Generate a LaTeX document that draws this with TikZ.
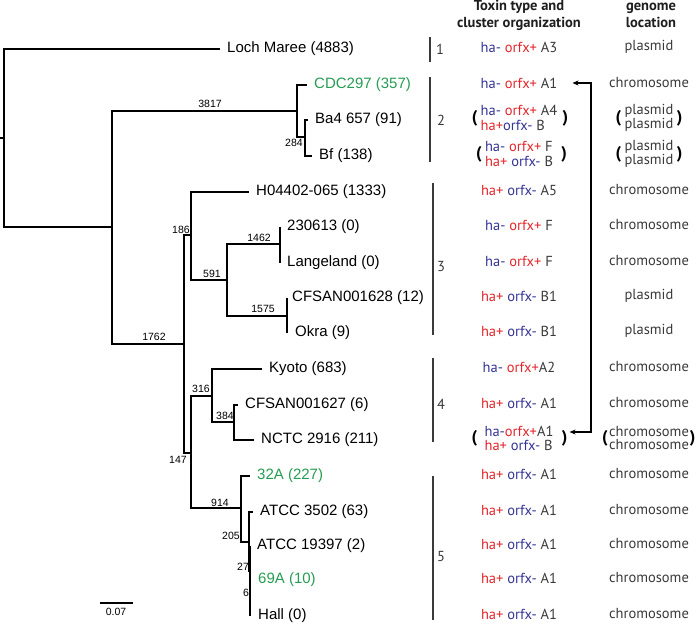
\documentclass[tikz,border=0pt]{standalone}
\usepackage{fontspec}
\setmainfont{Liberation Sans}
\newfontfamily\colfont{PT Sans}
\usetikzlibrary{arrows.meta,positioning}
\definecolor{botuBlue}{RGB}{52,52,150}
\definecolor{botuRed}{RGB}{226,38,44}
\definecolor{botuGreen}{RGB}{38,156,82}
\definecolor{botuGray}{RGB}{58,58,58}
\definecolor{botuDark}{RGB}{30,30,30}
\newcommand{\haPlus}{\textcolor{botuRed}{ha+}}
\newcommand{\haMinus}{\textcolor{botuBlue}{ha-}}
\newcommand{\orfPlus}{\textcolor{botuRed}{orfx+}}
\newcommand{\orfMinus}{\textcolor{botuBlue}{orfx-}}

\begin{document}
\begin{tikzpicture}[
  x=1pt, y=-1pt,
  branch/.style={line width=1.6pt, black},
  leaf/.style={inner sep=2pt, font=\fontsize{15}{15}\selectfont},
  support/.style={inner sep=0pt, font=\fontsize{10.5}{10.5}\selectfont},
  toxin/.style={inner sep=0pt, yshift=2pt, align=left, text=botuGray, font=\colfont\fontsize{14.5}{15}\selectfont},
  genome/.style={inner sep=0pt, yshift=2pt, align=center, text=botuGray, font=\colfont\fontsize{14.5}{13}\selectfont},
  paren/.style={inner sep=0pt, text=black, font=\colfont\bfseries\fontsize{17}{17}\selectfont},
  cladebar/.style={line width=1.5pt, botuGray},
  cladenum/.style={inner sep=0pt, text=botuGray, font=\colfont\fontsize{14.5}{14}\selectfont},
  header/.style={inner sep=0pt, align=center, text=botuDark, font=\colfont\bfseries\fontsize{14.5}{17}\selectfont},
  link/.style={{Stealth[length=6pt,width=5pt]}-{Stealth[length=6pt,width=5pt]}, line width=1.4pt}
]
  \useasboundingbox (0,0) rectangle (700,623);

  % tree
  \coordinate (rstub) at (0,138);
  \coordinate (r) at (4,138);
  \coordinate (a) at (112,227);
  \coordinate (n3817) at (297,111);
  \coordinate (n284) at (305,137);
  \coordinate (n1762) at (184,344);
  \coordinate (n186) at (191,235);
  \coordinate (n591) at (227,280);
  \coordinate (n1462) at (280,244);
  \coordinate (n1575) at (287,316);
  \coordinate (n147) at (191,453);
  \coordinate (n316) at (212,396);
  \coordinate (n384) at (234,422);
  \coordinate (n914) at (241,508);
  \coordinate (n205) at (249,542);
  \coordinate (n27) at (250,571);
  \coordinate (n6) at (250,598);

  \coordinate (tLoch) at (220,49);
  \coordinate (tCDC) at (307,85);
  \coordinate (tBa) at (308,120);
  \coordinate (tBf) at (312,156);
  \coordinate (tH) at (249,192);
  \coordinate (t2306) at (280,227);
  \coordinate (tLang) at (280,263);
  \coordinate (tCF28) at (287,298);
  \coordinate (tOkra) at (287,333);
  \coordinate (tKyoto) at (262,369);
  \coordinate (tCF27) at (238,405);
  \coordinate (tNCTC) at (254,440);
  \coordinate (t32A) at (250,476);
  \coordinate (t3502) at (253,512);
  \coordinate (t19397) at (250,546);
  \coordinate (t69A) at (250,580);
  \coordinate (tHall) at (250,616);

  \draw[branch] (rstub) -- (r);
  \foreach \p/\c in {r/tLoch, r/a, a/n3817, n3817/tCDC, n3817/n284, n284/tBa, n284/tBf,
      a/n1762, n1762/n186, n186/tH, n186/n591, n591/n1462, n1462/t2306, n1462/tLang,
      n591/n1575, n1575/tCF28, n1575/tOkra, n1762/n147, n147/n316, n316/tKyoto,
      n316/n384, n384/tCF27, n384/tNCTC, n147/n914, n914/t32A, n914/n205,
      n205/t3502, n205/n27, n27/t19397, n27/n6, n6/t69A, n6/tHall}
    \draw[branch] (\p) |- (\c);

  \node[leaf, right=5pt of tLoch] (loch) {Loch Maree (4883)};
  \node[leaf, text=botuGreen, right=5pt of tCDC] (cdc) {CDC297 (357)};
  \node[leaf, right=5pt of tBa] (ba4) {Ba4 657 (91)};
  \node[leaf, right=5pt of tBf] (bf) {Bf (138)};
  \node[leaf, right=5pt of tH] (h04) {H04402-065 (1333)};
  \node[leaf, right=5pt of t2306] (s2306) {230613 (0)};
  \node[leaf, right=5pt of tLang] (lang) {Langeland (0)};
  \node[leaf, right=3pt of tCF28] (cf28) {CFSAN001628 (12)};
  \node[leaf, right=6pt of tOkra] (okra) {Okra (9)};
  \node[leaf, right=5pt of tKyoto] (kyoto) {Kyoto (683)};
  \node[leaf, right=5pt of tCF27] (cf27) {CFSAN001627 (6)};
  \node[leaf, right=5pt of tNCTC] (nctc) {NCTC 2916 (211)};
  \node[leaf, text=botuGreen, right=5pt of t32A] (s32a) {32A (227)};
  \node[leaf, right=5pt of t3502] (atcc3502) {ATCC 3502 (63)};
  \node[leaf, right=5pt of t19397] (atcc19397) {ATCC 19397 (2)};
  \node[leaf, text=botuGreen, right=6pt of t69A] (s69a) {69A (10)};
  \node[leaf, right=6pt of tHall] (hall) {Hall (0)};

  \node[support] (l3817) at (210,104) {3817};
  \node[support] (l284) at (294,143) {284};
  \node[support] (l1762) at (154,337) {1762};
  \node[support] (l186) at (181,230) {186};
  \node[support] (l591) at (212,274) {591};
  \node[support] (l1462) at (259,238) {1462};
  \node[support] (l1575) at (263,309) {1575};
  \node[support] (l316) at (201,389) {316};
  \node[support] (l384) at (225,416) {384};
  \node[support] (l147) at (178,460) {147};
  \node[support] (l914) at (220,503) {914};
  \node[support] (l205) at (231,536) {205};
  \node[support] (l27) at (243,567) {27};
  \node[support] (l6) at (246,593) {6};

  \draw[branch] (100,603) -- (133,603);
  \node[support] (scale) at (116,612) {0.07};

  % clades
  \draw[cladebar] (430,37) -- (430,62);
  \draw[cladebar] (430,77) -- (430,162);
  \draw[cladebar] (433,183) -- (433,335);
  \draw[cladebar] (433,358) -- (433,442);
  \draw[cladebar] (433,476) -- (433,620);
  \node[cladenum] (c1) at (440,49) {1};
  \node[cladenum] (c2) at (441,120) {2};
  \node[cladenum] (c3) at (441,267) {3};
  \node[cladenum] (c4) at (441,404) {4};
  \node[cladenum] (c5) at (441,557) {5};

  % columns
  \node[header] (hTox) at (519,15) {Toxin type and\\cluster organization};
  \node[header] (hGen) at (651,15) {genome\\location};
  \coordinate (toxcol) at (519,0);
  \coordinate (gencol) at (649,0);

  \node[toxin] (tox1) at (tLoch -| toxcol) {\haMinus\ \orfPlus\ A3};
  \node[toxin] (tox2) at (tCDC -| toxcol) {\haMinus\ \orfPlus\ A1};
  \node[toxin] (tox3) at (tBa -| toxcol) {\haMinus\ \orfPlus\ A4\\\haPlus\orfMinus\ B};
  \node[toxin] (tox4) at (tBf -| toxcol) {\haMinus\ \orfPlus\ F\\\haPlus\ \orfMinus\ B};
  \node[toxin] (tox5) at (tH -| toxcol) {\haPlus\ \orfMinus\ A5};
  \node[toxin] (tox6) at (t2306 -| toxcol) {\haMinus\ \orfPlus\ F};
  \node[toxin] (tox7) at (tLang -| toxcol) {\haMinus\ \orfPlus\ F};
  \node[toxin] (tox8) at (tCF28 -| toxcol) {\haPlus\ \orfMinus\ B1};
  \node[toxin] (tox9) at (tOkra -| toxcol) {\haPlus\ \orfMinus\ B1};
  \node[toxin] (tox10) at (tKyoto -| toxcol) {\haMinus\ \orfPlus A2};
  \node[toxin] (tox11) at (tCF27 -| toxcol) {\haPlus\ \orfMinus\ A1};
  \node[toxin] (tox12) at (tNCTC -| toxcol) {\haMinus\orfPlus A1\\[-1pt]\haPlus\ \orfMinus\ B};
  \node[toxin] (tox13) at (t32A -| toxcol) {\haPlus\ \orfMinus\ A1};
  \node[toxin] (tox14) at (t3502 -| toxcol) {\haPlus\ \orfMinus\ A1};
  \node[toxin] (tox15) at (t19397 -| toxcol) {\haPlus\ \orfMinus\ A1};
  \node[toxin] (tox16) at (t69A -| toxcol) {\haPlus\ \orfMinus\ A1};
  \node[toxin] (tox17) at (tHall -| toxcol) {\haPlus\ \orfMinus\ A1};

  \node[paren, left=3pt of tox3] (tox3l) {(};
  \node[paren, right=5pt of tox3] (tox3r) {)};
  \node[paren, left=3pt of tox4] (tox4l) {(};
  \node[paren, right=8pt of tox4] (tox4r) {)};
  \node[paren, left=7pt of tox12] (tox12l) {(};
  \node[paren, right=8pt of tox12] (tox12r) {)};

  \node[genome] (gen1) at (tLoch -| gencol) {plasmid};
  \node[genome] (gen2) at (tCDC -| gencol) {chromosome};
  \node[genome] (gen3) at (tBa -| gencol) {plasmid\\plasmid};
  \node[genome] (gen4) at (tBf -| gencol) {plasmid\\plasmid};
  \node[genome] (gen5) at (tH -| gencol) {chromosome};
  \node[genome] (gen6) at (t2306 -| gencol) {chromosome};
  \node[genome] (gen7) at (tLang -| gencol) {chromosome};
  \node[genome] (gen8) at (tCF28 -| gencol) {plasmid};
  \node[genome] (gen9) at (tOkra -| gencol) {plasmid};
  \node[genome] (gen10) at (tKyoto -| gencol) {chromosome};
  \node[genome] (gen11) at (tCF27 -| gencol) {chromosome};
  \node[genome] (gen12) at (tNCTC -| gencol) {chromosome\\chromosome};
  \node[genome] (gen13) at (t32A -| gencol) {chromosome};
  \node[genome] (gen14) at (t3502 -| gencol) {chromosome};
  \node[genome] (gen15) at (t19397 -| gencol) {chromosome};
  \node[genome] (gen16) at (t69A -| gencol) {chromosome};
  \node[genome] (gen17) at (tHall -| gencol) {chromosome};

  \node[paren, left=3pt of gen3] (gen3l) {(};
  \node[paren, right=3pt of gen3] (gen3r) {)};
  \node[paren, left=3pt of gen4] (gen4l) {(};
  \node[paren, right=3pt of gen4] (gen4r) {)};
  \node[paren, left=1pt of gen12] (gen12l) {(};
  \node[paren, right=0.5pt of gen12] (gen12r) {)};

  % shared A1 cluster
  \coordinate (bend) at (591,0);
  \draw[link] ([xshift=15pt]tox2.east) -- (tox2.east -| bend) |- ([xshift=2pt,yshift=6pt]tox12r.east);
\end{tikzpicture}
\end{document}
